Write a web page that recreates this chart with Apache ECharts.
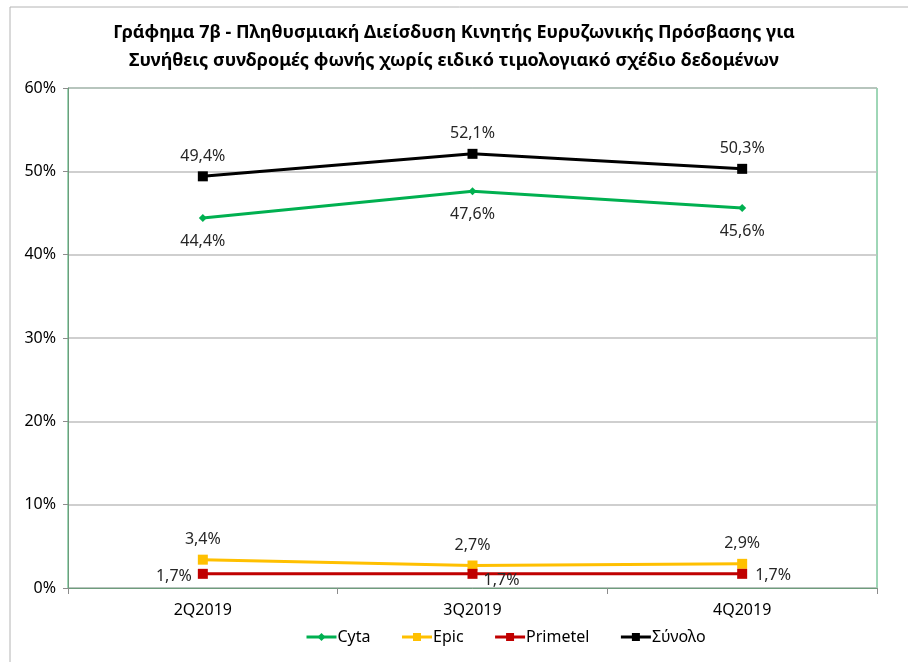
<!DOCTYPE html>
<html>
<head>
<meta charset="utf-8">
<script src="https://cdn.jsdelivr.net/npm/echarts@6/dist/echarts.min.js"></script>
<style>
  html, body { margin: 0; padding: 0; background: #fff; }
  #chart { width: 908px; height: 662px; }
</style>
</head>
<body>
<div id="chart"></div>
<script>
const quarters = ['2Q2019', '3Q2019', '4Q2019'];
const cyta = [44.4, 47.6, 45.6];
const epic = [3.4, 2.7, 2.9];
const primetel = [1.7, 1.7, 1.7];
const total = [49.4, 52.1, 50.3];

const titleLines = [
  'Γράφημα 7β - Πληθυσμιακή Διείσδυση Κινητής Ευρυζωνικής Πρόσβασης για',
  'Συνήθεις συνδρομές φωνής χωρίς ειδικό τιμολογιακό σχέδιο δεδομένων'
];

const font = 'Noto Sans';

// percent with greek decimal comma
function pct(v) {
  return v.toFixed(1).replace('.', ',') + '%';
}

const baseLabel = {
  show: true,
  fontFamily: font,
  fontSize: 16,
  color: '#262626',
  formatter: p => pct(p.value)
};

// primetel labels sit in different spots per point
const primetelLabels = [
  { position: 'left', distance: 6, offset: [0, 3] },
  { position: 'bottom', distance: 1, offset: [29, -7] },
  { position: 'right', distance: 8, offset: [0, 2] }
];

function line(name, data, color, symbol, size, labelPos, dist) {
  return {
    name: name,
    type: 'line',
    data: data,
    symbol: symbol,
    symbolSize: size,
    showAllSymbol: true,
    lineStyle: { color: color, width: 3 },
    itemStyle: { color: color },
    label: Object.assign({}, baseLabel, { position: labelPos, distance: dist })
  };
}

const chart = echarts.init(document.getElementById('chart'));

chart.setOption({
  animation: false,
  backgroundColor: '#fff',
  title: {
    text: titleLines.join('\n'),
    left: 'center',
    top: 14,
    textStyle: {
      fontFamily: font,
      fontSize: 18,
      fontWeight: 'bold',
      color: '#000',
      lineHeight: 28
    }
  },
  graphic: [
    {
      type: 'rect',
      shape: { x: 10, y: 7, width: 920, height: 680 },
      style: { fill: 'none', stroke: '#b4b4b4', lineWidth: 1 },
      silent: true
    }
  ],
  legend: {
    bottom: 12,
    left: 300,
    itemWidth: 30,
    itemHeight: 10,
    itemGap: 30,
    lineStyle: { width: 3 },
    textStyle: { fontFamily: font, fontSize: 16, color: '#000', padding: [0, 0, 0, -4] },
    data: ['Cyta', 'Epic', 'Primetel', 'Σύνολο']
  },
  grid: {
    left: 68,
    right: 31,
    top: 88,
    bottom: 74,
    show: true,
    borderColor: '#3fae6e',
    borderWidth: 1
  },
  xAxis: {
    type: 'category',
    data: quarters,
    boundaryGap: true,
    axisLine: { lineStyle: { color: '#6e9c7c', width: 1 } },
    axisTick: { show: true, length: 6, lineStyle: { color: '#8c8c8c' } },
    axisLabel: { fontFamily: font, fontSize: 16, color: '#000', margin: 14 }
  },
  yAxis: {
    type: 'value',
    min: 0,
    max: 60,
    interval: 10,
    axisLine: { show: true, lineStyle: { color: '#6e9c7c', width: 1 } },
    axisTick: { show: true, length: 5, lineStyle: { color: '#8c8c8c' } },
    splitLine: { lineStyle: { color: '#bfbfbf', width: 1.5 } },
    axisLabel: {
      fontFamily: font,
      fontSize: 16,
      color: '#000',
      margin: 12,
      formatter: '{value}%'
    }
  },
  series: [
    line('Cyta', cyta, '#00b050', 'diamond', 8, 'bottom', 11),
    line('Epic', epic, '#ffc000', 'rect', 10, 'top', 7),
    Object.assign(line('Primetel', [], '#c00000', 'rect', 10, 'left', 6), {
      data: primetel.map((v, i) => ({
        value: v,
        label: Object.assign({}, baseLabel, primetelLabels[i])
      }))
    }),
    line('Σύνολο', total, '#000000', 'rect', 10, 'top', 7)
  ]
});
</script>
</body>
</html>
